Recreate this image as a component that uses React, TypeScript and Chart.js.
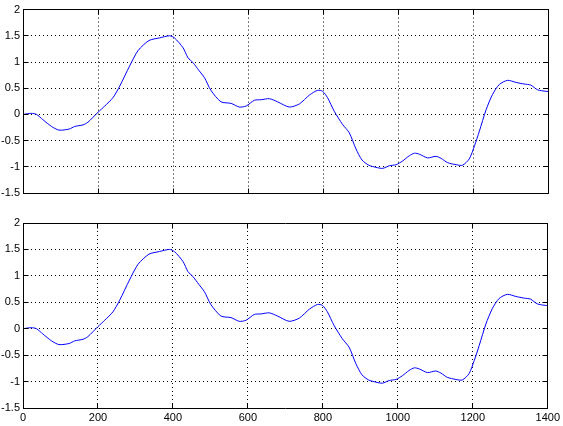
import React, { useEffect, useRef } from "react";
import { Chart, registerables } from "chart.js";

Chart.register(...registerables);

const xValues = [
  0, 22, 36, 53, 76, 96, 123, 138, 160, 173, 200, 218, 240, 258, 284, 307, 336, 364, 391, 404,
  427, 440, 453, 469, 484, 501, 528, 555, 577, 595, 617, 635, 657, 679, 710, 737, 764, 786, 799,
  812, 830, 852, 870, 888, 904, 922, 941, 959, 977, 995, 1012, 1030, 1044, 1057, 1079, 1101, 1115,
  1132, 1155, 1172, 1190, 1204, 1217, 1235, 1252, 1270, 1292, 1315, 1336, 1354, 1372, 1395, 1400,
];
const yValues = [
  0, 0.02, 0, -0.1, -0.23, -0.3, -0.28, -0.23, -0.2, -0.15, 0.04, 0.16, 0.32, 0.54, 0.92, 1.22, 1.41,
  1.46, 1.5, 1.46, 1.27, 1.08, 0.99, 0.84, 0.7, 0.46, 0.24, 0.21, 0.14, 0.16, 0.27, 0.28, 0.3, 0.24,
  0.14, 0.2, 0.37, 0.46, 0.44, 0.32, 0.06, -0.19, -0.35, -0.66, -0.87, -0.97, -1.01, -1.03, -0.98,
  -0.96, -0.89, -0.79, -0.74, -0.76, -0.83, -0.8, -0.84, -0.92, -0.96, -0.97, -0.85, -0.6, -0.32,
  0.09, 0.38, 0.57, 0.65, 0.61, 0.58, 0.56, 0.47, 0.44, 0.44,
];
const xTicks = [0, 200, 400, 600, 800, 1000, 1200, 1400];
const yTicks = [-1.5, -1, -0.5, 0, 0.5, 1, 1.5, 2];

const FONT = { family: "'Liberation Sans', Arial, sans-serif", size: 11 };

const align = (p: number) => Math.round(p - 0.5) + 0.5;

const boxPlugin = {
  id: "matlabBox",
  afterDraw(chart: any) {
    const { ctx, chartArea: a, scales } = chart;
    const L = align(a.left), R = align(a.right), T = align(a.top), B = align(a.bottom);
    const len = 5;
    ctx.save();
    ctx.strokeStyle = "#000";
    ctx.lineWidth = 1;
    ctx.setLineDash([]);
    ctx.beginPath();
    ctx.rect(L, T, R - L, B - T);
    for (const v of xTicks) {
      const px = align(scales.x.getPixelForValue(v));
      ctx.moveTo(px, B); ctx.lineTo(px, B - len);
      ctx.moveTo(px, T); ctx.lineTo(px, T + len);
    }
    for (const v of yTicks) {
      const py = align(scales.y.getPixelForValue(v));
      ctx.moveTo(L, py); ctx.lineTo(L + len, py);
      ctx.moveTo(R, py); ctx.lineTo(R - len, py);
    }
    ctx.stroke();
    ctx.restore();
  },
};

function SubPlot({ top, height, showX }: { top: number; height: number; showX: boolean }) {
  const ref = useRef<HTMLCanvasElement | null>(null);
  useEffect(() => {
    if (!ref.current) return;
    const points = xValues.map((x, i) => ({ x, y: yValues[i] }));
    const chart = new Chart(ref.current, {
      type: "line",
      data: {
        datasets: [
          {
            data: points,
            borderColor: "#0000ff",
            borderWidth: 1,
            pointRadius: 0,
            tension: 0.25,
            fill: false,
          },
        ],
      },
      options: {
        animation: false,
        responsive: false,
        maintainAspectRatio: false,
        layout: {
          padding: showX
            ? { top: 15, right: 15, bottom: 0, left: 0 }
            : { top: 8, right: 15, bottom: 15, left: 0 },
        },
        plugins: { legend: { display: false }, tooltip: { enabled: false } },
        scales: {
          x: {
            type: "linear",
            min: 0,
            max: 1400,
            afterBuildTicks: (s: any) => {
              s.ticks = xTicks.map((v) => ({ value: v }));
            },
            afterFit: (s: any) => {
              s.height = showX ? 18 : 0;
            },
            ticks: {
              display: showX,
              color: "#000",
              font: FONT,
              padding: 3,
              maxRotation: 0,
              autoSkip: false,
              callback: (v: any) => String(v),
            },
            grid: { color: "#000", lineWidth: 1, drawTicks: false },
            border: { display: false, dash: [1, 3] },
          },
          y: {
            type: "linear",
            min: -1.5,
            max: 2,
            afterBuildTicks: (s: any) => {
              s.ticks = yTicks.map((v) => ({ value: v }));
            },
            afterFit: (s: any) => {
              s.width = 23;
            },
            ticks: {
              color: "#000",
              font: FONT,
              padding: 3,
              autoSkip: false,
              callback: (v: any) => String(v),
            },
            grid: { color: "#000", lineWidth: 1, drawTicks: false },
            border: { display: false, dash: [1, 3] },
          },
        },
      },
      plugins: [boxPlugin],
    });
    return () => chart.destroy();
  }, [showX]);
  return (
    <canvas
      ref={ref}
      width={563}
      height={height}
      style={{ position: "absolute", left: 0, top, width: 563, height }}
    />
  );
}

export default function App() {
  return (
    <div style={{ position: "absolute", left: 0, top: 0, width: 563, height: 426, background: "#fff" }}>
      <SubPlot top={0} height={208} showX={false} />
      <SubPlot top={208} height={218} showX={true} />
    </div>
  );
}
